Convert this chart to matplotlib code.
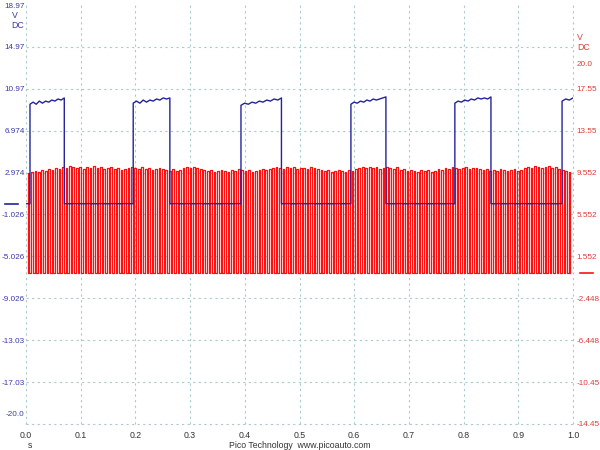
import numpy as np
import matplotlib
matplotlib.use("Agg")
import matplotlib.pyplot as plt
import matplotlib.transforms as mtransforms

plt.rcParams['font.family'] = ['Liberation Sans', 'DejaVu Sans']
FS = 5.9

# ---- data ----
# channel A (blue): square wave, (rise, fall) times in s and ripple on each high part (V)
blue_edges = [(0.0073, 0.070), (0.196, 0.263), (0.393, 0.467),
              (0.594, 0.658), (0.784, 0.850), (0.980, 1.0)]
blue_high = [
    [9.5, 9.7, 9.5, 9.8, 9.6, 9.8, 9.7, 9.9, 9.8, 10.0, 9.9, 10.1],
    [9.6, 9.8, 9.6, 9.9, 9.7, 9.9, 9.8, 10.0, 9.9, 10.1, 10.0, 10.1],
    [9.4, 9.6, 9.5, 9.7, 9.6, 9.8, 9.7, 9.9, 9.8, 10.0, 9.9, 10.1],
    [9.5, 9.7, 9.6, 9.8, 9.7, 9.9, 9.8, 10.0, 9.9, 10.0, 10.1, 10.2],
    [9.6, 9.8, 9.7, 9.9, 9.8, 10.0, 9.9, 10.1, 10.0, 10.1, 10.0, 10.2],
    [9.8, 10.0, 9.9, 10.1],
]
blue_low = 0.0

# channel B (red): fast pulse train, first pulse time, period (s) and peak of each pulse (V)
red_start = 0.003
red_period = 0.0063
red_low = 0.0
red_peaks = [
    9.5, 9.6, 9.7, 9.6, 9.8, 9.7, 9.9, 9.8, 10.0, 9.9,
    10.1, 10.0, 10.2, 10.1, 10.0, 10.1, 9.9, 10.1, 10.0, 10.2,
    10.0, 10.1, 9.9, 10.0, 10.1, 9.9, 10.0, 9.8, 9.9, 10.0,
    10.1, 10.0, 9.9, 10.1, 9.9, 10.0, 9.8, 9.9, 10.0, 9.9,
    9.8, 9.7, 9.9, 9.7, 9.8, 10.0, 10.1, 10.0, 10.1, 10.0,
    9.9, 9.8, 9.7, 9.8, 9.6, 9.7, 9.8, 9.7, 9.6, 9.8,
    9.7, 9.9, 9.8, 9.7, 9.8, 9.6, 9.7, 9.8, 9.9, 9.8,
    9.9, 10.0, 10.1, 10.0, 9.9, 10.1, 10.0, 10.1, 9.9, 10.0,
    10.0, 9.9, 10.1, 10.0, 9.9, 9.8, 9.7, 9.8, 9.6, 9.7,
    9.8, 9.7, 9.6, 9.8, 9.7, 9.9, 10.0, 10.1, 10.0, 10.1,
    10.0, 10.1, 9.9, 10.0, 10.1, 10.0, 9.9, 10.1, 9.8, 9.9,
    9.7, 9.8, 9.7, 9.6, 9.8, 9.7, 9.8, 9.6, 9.7, 9.9,
    9.8, 10.0, 9.9, 10.1, 10.0, 9.9, 10.0, 10.1, 9.9, 10.0,
    10.0, 9.9, 9.8, 9.9, 9.7, 9.8, 9.7, 9.9, 9.8, 9.7,
    9.8, 9.9, 9.7, 9.8, 10.0, 10.1, 10.0, 10.2, 10.1, 10.0,
    10.1, 10.2, 10.0, 10.1, 9.9, 9.8, 9.7, 9.6,
]

x_ticks = [0.0, 0.1, 0.2, 0.3, 0.4, 0.5, 0.6, 0.7, 0.8, 0.9, 1.0]
left_ticks = [18.97, 14.97, 10.97, 6.974, 2.974, -1.026, -5.026, -9.026, -13.03, -17.03, -20.0]
left_labels = ["18.97", "14.97", "10.97", "6.974", "2.974", "-1.026", "-5.026",
               "-9.026", "-13.03", "-17.03", "-20.0"]
grid_levels = [14.97, 10.97, 6.974, 2.974, -1.026, -5.026, -9.026, -13.03, -17.03]
right_ticks = [20.0, 17.55, 13.55, 9.552, 5.552, 1.552, -2.448, -6.448, -10.45, -14.45]
right_labels = ["20.0", "17.55", "13.55", "9.552", "5.552", "1.552", "-2.448",
                "-6.448", "-10.45", "-14.45"]

# ---- build step traces ----
bt, bv = [0.0], [blue_low]
for (r, f), ripple in zip(blue_edges, blue_high):
    bt += [r, r]
    bv += [blue_low, ripple[0]]
    bt += list(np.linspace(r, f, len(ripple)))
    bv += ripple
    if f < 1.0:
        bt += [f, f]
        bv += [ripple[-1], blue_low]
if bt[-1] < 1.0:
    bt.append(1.0)
    bv.append(bv[-1])

rt, rv = [red_start], [red_low]
for i, pk in enumerate(red_peaks):
    t0 = red_start + i * red_period
    t1 = t0 + red_period * 0.5
    rt += [t0, t0, t1, t1]
    rv += [red_low, pk, pk, red_low]

# ---- plot ----
BLUE = '#24249a'
RED = '#ff1010'
BLUE_TXT = '#3a3aa8'
RED_TXT = '#e03a3a'
GRID = '#a8cccc'

fig = plt.figure(figsize=(6, 4.5), dpi=100)
ax = fig.add_axes([26 / 600, 1 - 424 / 450, 547 / 600, 420 / 450])
ax2 = ax.twinx()
ax.set_zorder(ax2.get_zorder() + 1)
ax.patch.set_visible(False)

ax.set_xlim(0, 1)
ax.set_ylim(-21.03, 19.07)
ax2.set_ylim(-14.45, 25.65)

for a in (ax, ax2):
    for s in a.spines.values():
        s.set_visible(False)

for x in x_ticks:
    ax2.axvline(x, color=GRID, lw=0.8, ls=(0, (2, 3)), zorder=0, clip_on=False)
for y in grid_levels:
    ax2.axhline(y + 6.58, color=GRID, lw=0.8, ls=(0, (2, 3)), zorder=0)
ax2.axhline(-14.45, color=GRID, lw=0.8, ls=(0, (2, 3)), zorder=0, clip_on=False)

ax2.plot(rt, rv, color=RED, lw=0.9)
ax.plot(bt, bv, color=BLUE, lw=1.0)

ax.set_xticks(x_ticks)
ax.set_xticklabels(["%.1f" % x for x in x_ticks], fontsize=FS + 0.4, color='#333333')
ax.set_yticks(left_ticks)
ax.set_yticklabels(left_labels, fontsize=FS, color=BLUE_TXT)
ax2.set_yticks(right_ticks)
ax2.set_yticklabels(right_labels, fontsize=FS, color=RED_TXT)
ax.tick_params(axis='both', length=0, pad=1.0)
ax2.tick_params(axis='y', length=0, pad=2.5)
ax.tick_params(axis='x', pad=5)

# units and zero markers
fig.text(15 / 600, 1 - 15 / 450, "V", fontsize=FS + 0.4, color=BLUE_TXT, ha='center', va='center')
fig.text(24 / 600, 1 - 25 / 450, "DC", fontsize=FS + 0.4, color=BLUE_TXT, ha='right', va='center')
fig.text(577 / 600, 1 - 37 / 450, "V", fontsize=FS + 0.4, color=RED_TXT, ha='left', va='center')
fig.text(577 / 600, 1 - 47 / 450, "DC", fontsize=FS + 0.4, color=RED_TXT, ha='left', va='center')

tb = mtransforms.blended_transform_factory(ax.transAxes, ax.transData)
ax.plot([-0.038, -0.0146], [0, 0], color=BLUE, lw=1.2, transform=tb, clip_on=False)
tr = mtransforms.blended_transform_factory(ax2.transAxes, ax2.transData)
ax2.plot([1.0128, 1.0366], [0, 0], color=RED, lw=1.2, transform=tr, clip_on=False)

fig.text(30 / 600, 1 - 446 / 450, "s", fontsize=FS + 0.4, color='#333333', ha='center', va='center')
fig.text(300 / 600, 1 - 446 / 450, "Pico Technology  www.picoauto.com", fontsize=FS + 0.4,
         color='#333333', ha='center', va='center')

fig.savefig("out.png", dpi=100)
